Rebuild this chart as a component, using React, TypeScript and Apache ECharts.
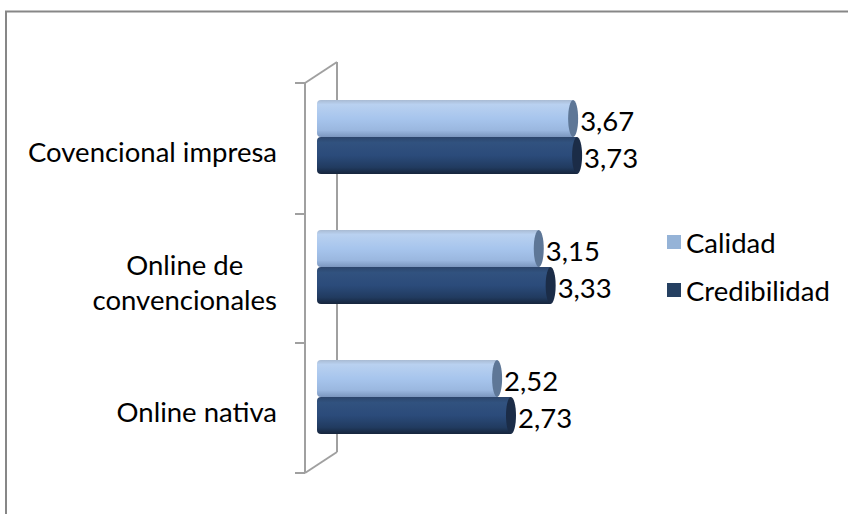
import React, { useEffect, useRef } from "react";
import * as echarts from "echarts";

const categories = ["Covencional impresa", "Online de\nconvencionales", "Online nativa"];
const seriesNames = ["Calidad", "Credibilidad"];
const calidad = [3.67, 3.15, 2.52];
const credibilidad = [3.73, 3.33, 2.73];

const FONT = "Lato, 'Open Sans', sans-serif";
const FS = 27.5;
const X_MIN = -0.28;
const X_MAX = 4.22;

const bodyGradients = [
  [
    { offset: 0, color: "#a9bbd3" },
    { offset: 0.12, color: "#b9d1f0" },
    { offset: 0.5, color: "#a7c5ed" },
    { offset: 0.82, color: "#9ab7df" },
    { offset: 1, color: "#7b96be" },
  ],
  [
    { offset: 0, color: "#2c456b" },
    { offset: 0.15, color: "#31527f" },
    { offset: 0.5, color: "#2b4b7a" },
    { offset: 0.82, color: "#213b60" },
    { offset: 1, color: "#16253c" },
  ],
];
const capColors = ["#5e7797", "#1b2c47"];
const legendColors = ["#95b3d7", "#254061"];

function makeRender(idx: number) {
  return (params: any, api: any) => {
    const val = api.value(0);
    const cat = api.value(1);
    const start = api.coord([X_MIN, cat]);
    const end = api.coord([val, cat]);
    const h = 37;
    const yTop = end[1] + (idx === 0 ? -h : 0);
    const capR = 5;
    const x0 = start[0];
    const xe = end[0];
    return {
      type: "group",
      children: [
        {
          type: "rect",
          shape: { x: x0, y: yTop, width: xe - capR - x0, height: h, r: [4, 0, 0, 4] },
          style: {
            fill: { type: "linear", x: 0, y: 0, x2: 0, y2: 1, colorStops: bodyGradients[idx] },
          },
        },
        {
          type: "ellipse",
          shape: { cx: xe - capR, cy: yTop + h / 2, rx: capR, ry: h / 2 },
          style: { fill: capColors[idx] },
        },
        {
          type: "text",
          x: xe + 2,
          y: yTop + h / 2 + 2,
          style: {
            text: val.toFixed(2).replace(".", ","),
            fontSize: FS,
            fontFamily: FONT,
            fill: "#000",
            verticalAlign: "middle",
            align: "left",
          },
        },
      ],
    };
  };
}

export default function App() {
  const ref = useRef<HTMLDivElement>(null);
  useEffect(() => {
    if (!ref.current) return;
    const chart = echarts.init(ref.current, null, { renderer: "svg" });
    const gray = "#a0a0a0";
    chart.setOption({
      animation: false,
      backgroundColor: "#fff",
      grid: { left: 317, top: 72, width: 297.5, height: 390 },
      xAxis: { type: "value", min: X_MIN, max: X_MAX, show: false },
      yAxis: {
        type: "category",
        data: categories,
        inverse: true,
        axisLine: { show: false },
        axisTick: { show: false },
        splitLine: { show: false },
        axisLabel: {
          margin: 40,
          padding: [29, 0, 0, 0],
          formatter: (v: string) => v.split("\n").map((l) => `{c|${l}}`).join("\n"),
          rich: {
            c: { align: "center", fontSize: FS, lineHeight: 35, fontFamily: FONT, color: "#000" },
          },
        },
      },
      legend: {
        orient: "vertical",
        left: 662,
        top: 222,
        itemWidth: 14,
        itemHeight: 14,
        itemGap: 18,
        icon: "rect",
        textStyle: { fontSize: FS, lineHeight: 30, fontFamily: FONT, color: "#000" },
        data: seriesNames.map((n, i) => ({ name: n, itemStyle: { color: legendColors[i] } })),
      },
      graphic: [
        {
          type: "rect",
          z: 0,
          shape: { x: 6, y: 11.5, width: 900, height: 600 },
          style: { fill: "none", stroke: "#878787", lineWidth: 2 },
        },
        { type: "line", z: 0, shape: { x1: 337, y1: 62, x2: 337, y2: 452 }, style: { stroke: gray, lineWidth: 2 } },
        { type: "line", z: 0, shape: { x1: 305, y1: 83, x2: 337, y2: 62 }, style: { stroke: gray, lineWidth: 2 } },
        { type: "line", z: 0, shape: { x1: 305, y1: 473, x2: 337, y2: 452 }, style: { stroke: gray, lineWidth: 2 } },
        { type: "line", z: 0, shape: { x1: 305, y1: 83, x2: 305, y2: 473 }, style: { stroke: gray, lineWidth: 2 } },
        ...[83, 214, 343, 473].map((y) => ({
          type: "line",
          z: 0,
          shape: { x1: 295, y1: y, x2: 305, y2: y },
          style: { stroke: gray, lineWidth: 2 },
        })),
      ],
      series: [calidad, credibilidad].map((arr, i) => ({
        type: "custom",
        name: seriesNames[i],
        z: 5,
        itemStyle: { color: legendColors[i] },
        encode: { x: 0, y: 1 },
        data: arr.map((v, j) => [v, j]),
        renderItem: makeRender(i),
      })),
    });
    return () => chart.dispose();
  }, []);
  return <div ref={ref} style={{ position: "fixed", left: 0, top: 0, width: 848, height: 514 }} />;
}
